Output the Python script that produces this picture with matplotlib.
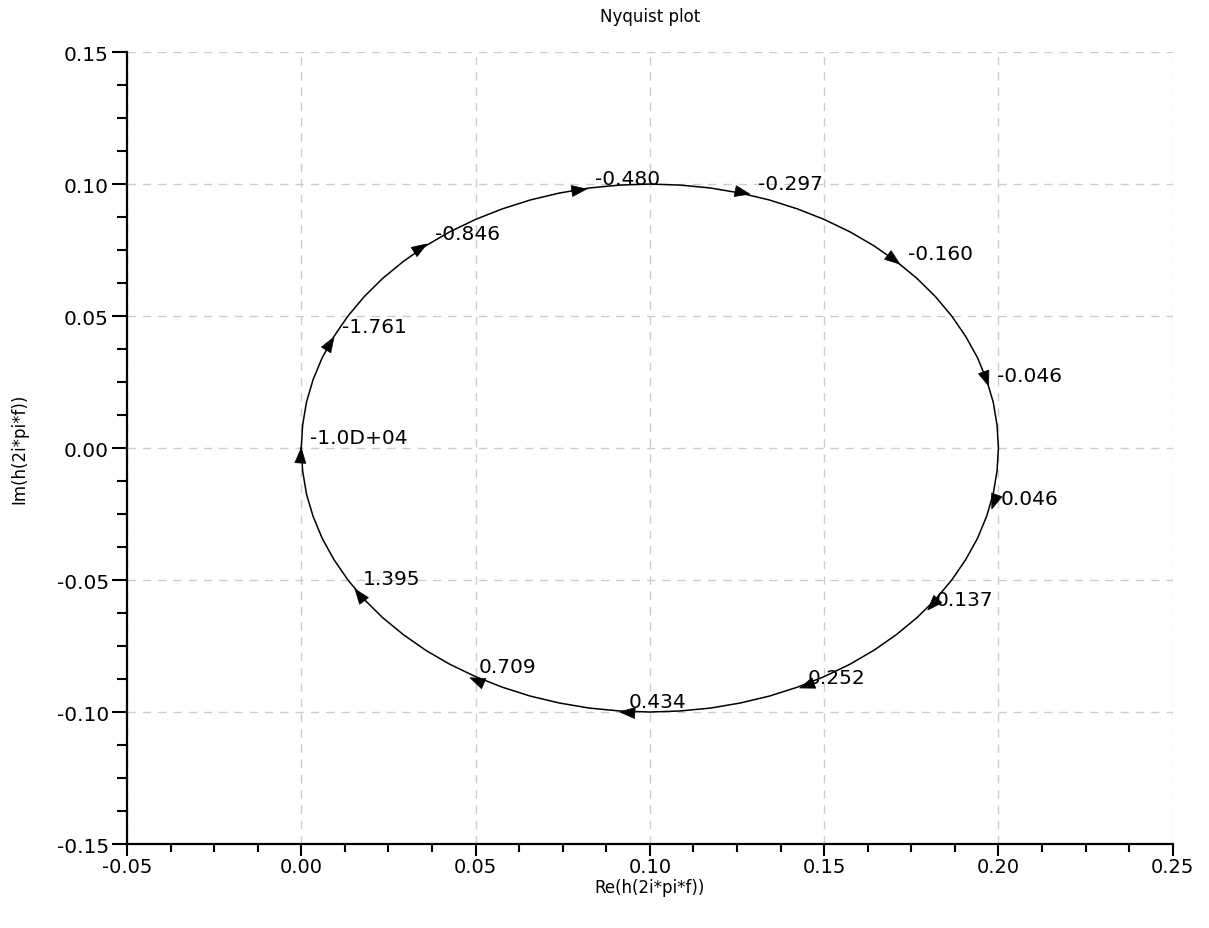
import numpy as np
import matplotlib
matplotlib.use("Agg")
import matplotlib.pyplot as plt

plt.rcParams['font.family'] = ['DejaVu Sans']

# Nyquist locus (from origin, up over the top, down the right, back along the bottom)
re_curve = [0.0000, 0.0004, 0.0015, 0.0034, 0.0060, 0.0094, 0.0134, 0.0181, 0.0234, 0.0293,
            0.0357, 0.0426, 0.0500, 0.0577, 0.0658, 0.0741, 0.0826, 0.0913, 0.1000, 0.1087,
            0.1174, 0.1259, 0.1342, 0.1423, 0.1500, 0.1574, 0.1643, 0.1707, 0.1766, 0.1819,
            0.1866, 0.1906, 0.1940, 0.1966, 0.1985, 0.1996, 0.2000,
            0.1996, 0.1985, 0.1966, 0.1940, 0.1906, 0.1866, 0.1819, 0.1766, 0.1707, 0.1643,
            0.1574, 0.1500, 0.1423, 0.1342, 0.1259, 0.1174, 0.1087, 0.1000, 0.0913, 0.0826,
            0.0741, 0.0658, 0.0577, 0.0500, 0.0426, 0.0357, 0.0293, 0.0234, 0.0181, 0.0134,
            0.0094, 0.0060, 0.0034, 0.0015, 0.0004, 0.0000]
im_curve = [0.0000, 0.0087, 0.0174, 0.0259, 0.0342, 0.0423, 0.0500, 0.0574, 0.0643, 0.0707,
            0.0766, 0.0819, 0.0866, 0.0906, 0.0940, 0.0966, 0.0985, 0.0996, 0.1000, 0.0996,
            0.0985, 0.0966, 0.0940, 0.0906, 0.0866, 0.0819, 0.0766, 0.0707, 0.0643, 0.0574,
            0.0500, 0.0423, 0.0342, 0.0259, 0.0174, 0.0087, 0.0000,
            -0.0087, -0.0174, -0.0259, -0.0342, -0.0423, -0.0500, -0.0574, -0.0643, -0.0707, -0.0766,
            -0.0819, -0.0866, -0.0906, -0.0940, -0.0966, -0.0985, -0.0996, -0.1000, -0.0996, -0.0985,
            -0.0966, -0.0940, -0.0906, -0.0866, -0.0819, -0.0766, -0.0707, -0.0643, -0.0574, -0.0500,
            -0.0423, -0.0342, -0.0259, -0.0174, -0.0087, 0.0000]

# frequency markers (arrow tips) and their labels
freq_labels = ["-1.0D+04", "-1.761", "-0.846", "-0.480", "-0.297", "-0.160", "-0.046",
               "0.046", "0.137", "0.252", "0.434", "0.709", "1.395"]
re_marks = [0.0000, 0.0094, 0.0360, 0.0819, 0.1287, 0.1717, 0.1972,
            0.1981, 0.1797, 0.1430, 0.0914, 0.0484, 0.0154]
im_marks = [0.0000, 0.0420, 0.0773, 0.0981, 0.0962, 0.0697, 0.0235,
            -0.0231, -0.0614, -0.0909, -0.1000, -0.0870, -0.0534]

xticks = [-0.05, 0.00, 0.05, 0.10, 0.15, 0.20, 0.25]
yticks = [-0.15, -0.10, -0.05, 0.00, 0.05, 0.10, 0.15]

fig = plt.figure(figsize=(12.09, 9.29), dpi=100)
ax = fig.add_axes([0.105, 0.0904, 0.865, 0.8525])
ax.set_xlim(-0.05, 0.25)
ax.set_ylim(-0.15, 0.15)

ax.plot(re_curve, im_curve, color='black', lw=1.1, zorder=3)

fig.canvas.draw()
rc = np.array(re_curve); ic = np.array(im_curve)
pts_disp = ax.transData.transform(np.column_stack([rc, ic]))
for xm, ym, lab in zip(re_marks, im_marks, freq_labels):
    pm = ax.transData.transform((xm, ym))
    d = np.hypot(pts_disp[:, 0] - pm[0], pts_disp[:, 1] - pm[1])
    i = int(np.argmin(d))
    i0 = max(i - 1, 0); i1 = min(i + 1, len(rc) - 1)
    v = pts_disp[i1] - pts_disp[i0]
    ang = np.arctan2(v[1], v[0])
    L, W = 15.0, 5.5
    tri = np.array([[0, 0], [-L, W], [-L, -W], [0, 0]])
    rot = np.array([[np.cos(ang), -np.sin(ang)], [np.sin(ang), np.cos(ang)]])
    tri_d = tri @ rot.T + pm
    tri_data = ax.transData.inverted().transform(tri_d)
    ax.add_patch(plt.Polygon(tri_data, closed=True, facecolor='black',
                             edgecolor='black', lw=0.5, zorder=4))
    ax.annotate(lab, (xm, ym), xytext=(6, 1), textcoords='offset points',
                ha='left', va='bottom', fontsize=14.5, color='black', zorder=5)

ax.set_xticks(xticks)
ax.set_yticks(yticks)
ax.set_xticklabels([f"{v:.2f}" for v in xticks])
ax.set_yticklabels([f"{v:.2f}" for v in yticks])
ax.set_xticks(np.arange(-0.05, 0.2501, 0.0125), minor=True)
ax.set_yticks(np.arange(-0.15, 0.1501, 0.0125), minor=True)
ax.tick_params(axis='x', which='major', direction='out', length=8.6, width=1.5, labelsize=14, pad=1)
ax.tick_params(axis='x', which='minor', direction='out', length=6, width=1.5)
ax.tick_params(axis='y', which='major', direction='out', length=11, width=1.5, labelsize=14.5, pad=2)
ax.tick_params(axis='y', which='minor', direction='out', length=7, width=1.5)

for s in ['top', 'right']:
    ax.spines[s].set_visible(False)
for s in ['left', 'bottom']:
    ax.spines[s].set_linewidth(1.6)

ax.grid(True, which='major', color='#cccccc', linestyle=(0, (6, 5)), linewidth=1.0)
ax.set_axisbelow(True)

ax.set_title("Nyquist plot", fontsize=12, pad=22)
ax.set_xlabel("Re(h(2i*pi*f))", fontsize=12, labelpad=1)
ax.set_ylabel("Im(h(2i*pi*f))", fontsize=12, labelpad=20)

fig.savefig("out.png", dpi=100)
